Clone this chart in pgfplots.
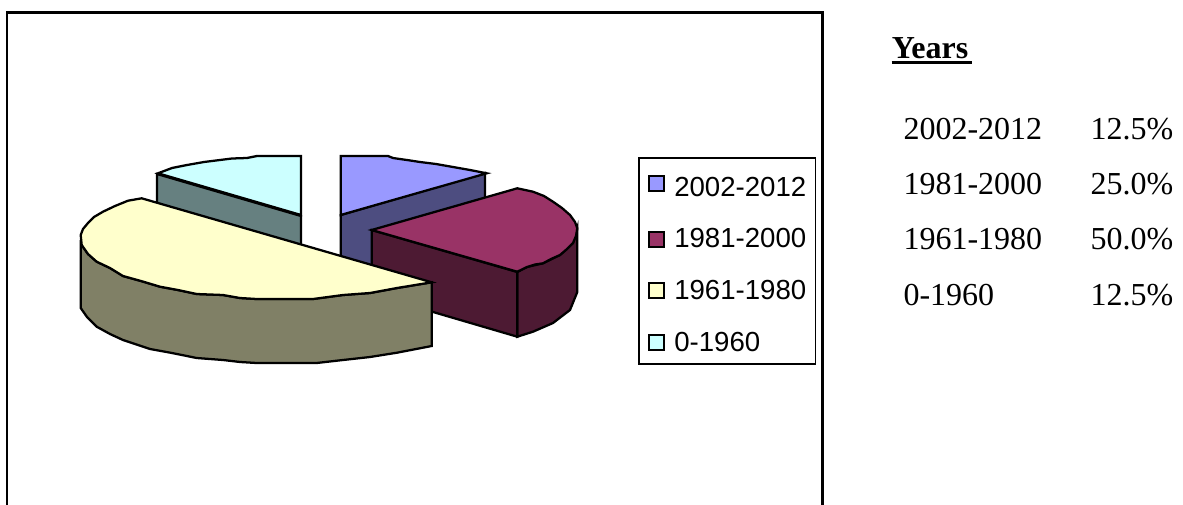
\documentclass[border=0pt]{standalone}
\usepackage{pgfplots}
\pgfplotsset{compat=1.18}
\usepackage{fontspec}
\setmainfont{Liberation Serif}
\newfontfamily\arial{Liberation Sans}
\definecolor{bluetop}{HTML}{9999FF}
\definecolor{blueside}{HTML}{4D4D80}
\definecolor{martop}{HTML}{993366}
\definecolor{marside}{HTML}{4D1A33}
\definecolor{yeltop}{HTML}{FFFFCC}
\definecolor{yelside}{HTML}{808066}
\definecolor{cyantop}{HTML}{CCFFFF}
\definecolor{cyanside}{HTML}{668080}
\begin{document}
\begin{tikzpicture}
\useasboundingbox (0,0) rectangle (887.25pt,378pt);
\begin{axis}[
  at={(0,0)}, anchor=south west,
  scale only axis, width=887.25pt, height=378pt,
  xmin=0, xmax=1183, ymin=0, ymax=504, y dir=reverse,
  hide axis, clip mode=individual,
  legend style={at={(axis cs:638.3,157.3)}, anchor=north west, draw=black, line width=1pt,
    font=\arial\fontsize{20.7pt}{20.7pt}\selectfont, inner xsep=5pt, inner ysep=6pt, row sep=18.75pt,
    /tikz/every even column/.append style={column sep=0pt}},
  legend cell align=left,
  legend image code/.code={\draw[draw=black, line width=1.5pt, #1] (0pt,-5.5pt) rectangle (11.3pt,5.8pt); \path (-2pt,0pt) (16.5pt,0pt);},
]
% frame
\addplot[forget plot, draw=black, line width=1.8pt] coordinates {(7,520) (7,12.5) (822.5,12.5) (822.5,520)};
% blue slice
\addplot[forget plot, fill=blueside, draw=black, line width=1.7pt] coordinates {(340.7,215) (485,173) (485,237) (340.7,279)} -- cycle;
\addplot[forget plot, fill=bluetop, draw=black, line width=1.7pt] coordinates {(340.7,215) (340.7,156) (388,156) (393,158) (407,160) (420,162) (436,164) (453,167) (470,170) (486.7,173.3)} -- cycle;
% cyan slice
\addplot[forget plot, fill=cyanside, draw=black, line width=1.7pt] coordinates {(157,174) (301,216) (301,280) (157,238)} -- cycle;
\addplot[forget plot, fill=cyantop, draw=black, line width=1.7pt] coordinates {(301,215) (301,156) (257,156) (247,158) (232,158.5) (220,160) (204,162) (187,165) (172,168) (158,173.3)} -- cycle;
% maroon slice
\addplot[forget plot, fill=marside, draw=black, line width=1.7pt] coordinates {(517.3,272) (527,267) (543,263.3) (560,255) (573,243) (577.3,228) (577.3,292) (570,310) (553,323) (533,331.7) (517.3,336.7)} -- cycle;
\addplot[forget plot, fill=marside, draw=black, line width=1.7pt] coordinates {(371.7,230) (517.3,272) (517.3,336.7) (371.7,294)} -- cycle;
\addplot[forget plot, fill=martop, draw=black, line width=1.7pt] coordinates {(371.7,230) (517.3,188.3) (533,191.7) (544,196) (553,201.7) (562,208) (570,215) (575,222) (577.3,228.3) (576,236) (573,243) (567,249) (560,255) (551,259) (543,263.3) (535,264.5) (527,267) (517.3,271.7)} -- cycle;
% yellow slice
\addplot[forget plot, fill=yelside, draw=black, line width=1.7pt] coordinates {(80.7,240) (81.7,245) (88,254) (96.7,261.7) (110,268) (123,276) (141,281) (160,286.7) (178,290) (196.7,294) (223,295) (240,298) (256.7,299) (313,299) (343,295) (370,293) (397,288) (431.7,282.3) (431.7,346) (397,352.7) (370,357) (343,360) (316.7,363) (256.7,363) (240,362) (223,360) (196.7,358) (172,353) (150,349) (123,340) (110,334) (96.7,326.7) (87,317) (80.7,308)} -- cycle;
\addplot[forget plot, fill=yeltop, draw=black, line width=1.7pt] coordinates {(141.7,198.3) (128,200.7) (115,206) (103,211.7) (94,217) (88,223) (83,229) (80.7,235) (81.7,245) (88,254) (96.7,261.7) (110,268) (123,276) (141,281) (160,286.7) (178,290) (196.7,294) (223,295) (240,298) (256.7,299) (313,299) (343,295) (370,293) (397,288) (431.7,282.3)} -- cycle;
% years underline
\addplot[forget plot, draw=black, line width=2.6pt] coordinates {(891.5,62.5) (972,62.5)};
\addlegendimage{fill=bluetop}\addlegendentry{\rule{0pt}{20.8pt}2002-2012}
\addlegendimage{fill=martop}\addlegendentry{1981-2000}
\addlegendimage{fill=yeltop}\addlegendentry{1961-1980}
\addlegendimage{fill=cyantop}\addlegendentry{0-1960}
\node[anchor=base west, inner sep=0pt, font=\fontsize{24pt}{24pt}\selectfont\bfseries] at (axis cs:891.5,58.5) {Years};
\foreach \y/\a/\b in {139/2002-2012/12.5,194/1981-2000/25.0,249.5/1961-1980/50.0,305/0-1960/12.5}{
  \edef\temp{\noexpand\node[anchor=base west, inner sep=0pt, font=\noexpand\fontsize{24pt}{24pt}\noexpand\selectfont] at (axis cs:903.3,\y) {\a};
  \noexpand\node[anchor=base east, inner sep=0pt, font=\noexpand\fontsize{24pt}{24pt}\noexpand\selectfont] at (axis cs:1173.5,\y) {\b\noexpand\%};}
  \temp
}
\end{axis}
\end{tikzpicture}
\end{document}
